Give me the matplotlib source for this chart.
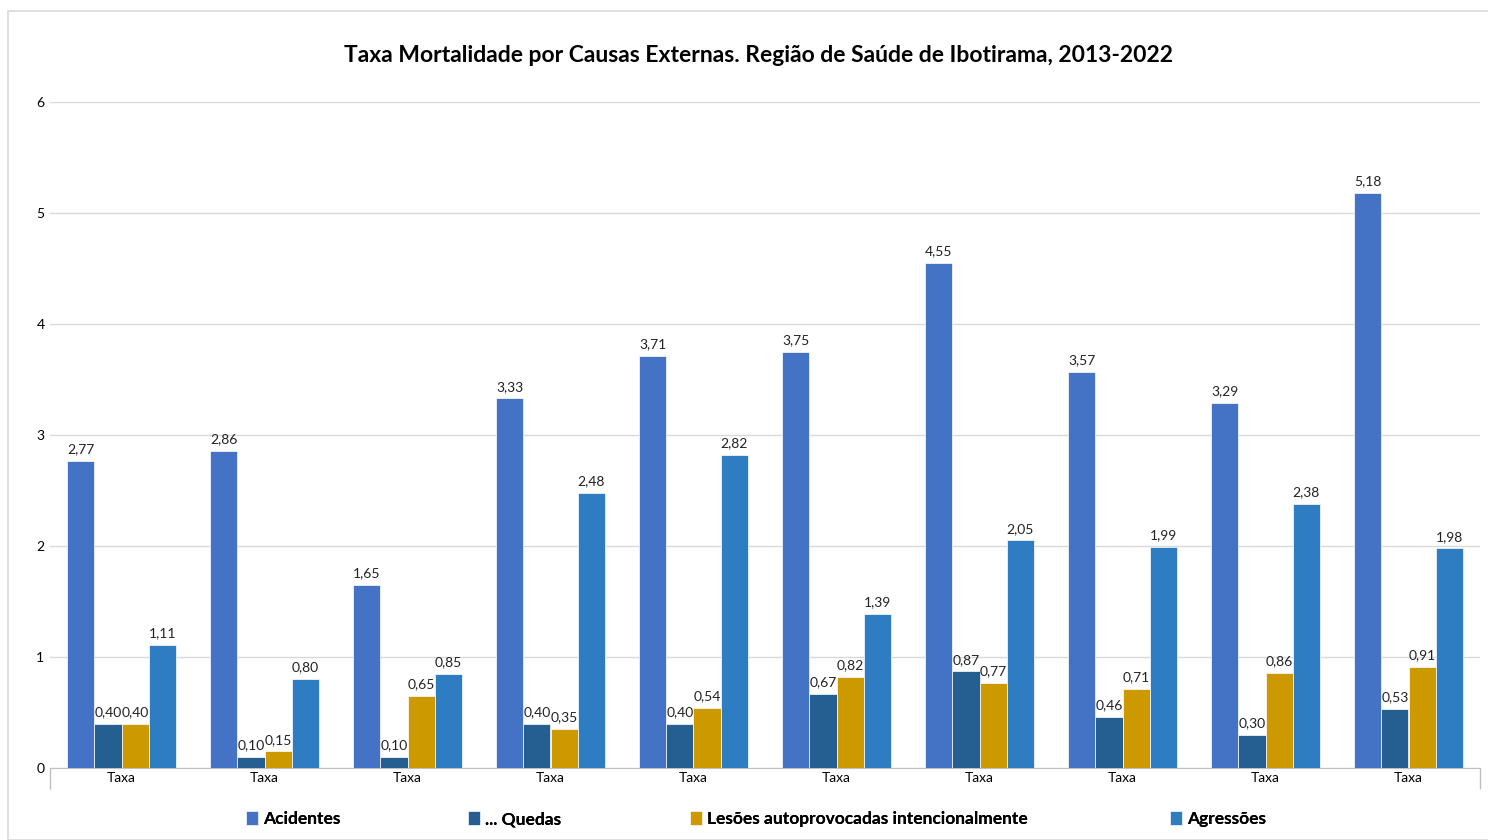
import matplotlib
matplotlib.use("Agg")
import matplotlib.pyplot as plt
import numpy as np
from matplotlib.patches import Rectangle

categories = ["Taxa"] * 10
series_names = ["Acidentes", "... Quedas", "Lesões autoprovocadas intencionalmente", "Agressões"]
acidentes = [2.77, 2.86, 1.65, 3.33, 3.71, 3.75, 4.55, 3.57, 3.29, 5.18]
quedas = [0.40, 0.10, 0.10, 0.40, 0.40, 0.67, 0.87, 0.46, 0.30, 0.53]
lesoes = [0.40, 0.15, 0.65, 0.35, 0.54, 0.82, 0.77, 0.71, 0.86, 0.91]
agressoes = [1.11, 0.80, 0.85, 2.48, 2.82, 1.39, 2.05, 1.99, 2.38, 1.98]
colors = ["#4472C4", "#255E91", "#CC9900", "#2E7DC2"]

plt.rcParams['font.family'] = ['Lato', 'DejaVu Sans']

fig = plt.figure(figsize=(14.88, 8.4), dpi=100)
fig.patches.append(Rectangle((8/1488, 0), 1.0, 1 - 11/840, transform=fig.transFigure,
                             fill=False, edgecolor="#D9D9D9", linewidth=1.2))
ax = fig.add_axes([50/1488, 1 - 768/840, 1430/1488, (768 - 102)/840])

x = np.arange(len(categories))
w = 0.19
data = [acidentes, quedas, lesoes, agressoes]
handles = []
for i, (vals, c) in enumerate(zip(data, colors)):
    pos = x + (i - 1.5) * w
    b = ax.bar(pos, vals, width=w, color=c, edgecolor="white", linewidth=0.5, zorder=3)
    handles.append(b)
    for px, v in zip(pos, vals):
        ax.text(px, v + 0.05, f"{v:.2f}".replace(".", ","), ha="center", va="bottom",
                fontsize=10, color="#222222", zorder=4)

ax.set_xlim(-0.5, len(categories) - 0.5)
ax.set_ylim(0, 6)
ax.set_yticks(range(0, 7))
ax.yaxis.grid(True, color="#D9D9D9", linewidth=1.0, zorder=0)
ax.set_axisbelow(True)
for s in ["top", "right", "left"]:
    ax.spines[s].set_visible(False)
ax.spines["bottom"].set_color("#BFBFBF")
ax.tick_params(axis="y", length=0, labelsize=10, pad=4)
ax.set_xticks(x)
ax.set_xticklabels(categories, fontsize=10)
ax.tick_params(axis="x", length=0, pad=3)
ax.set_xticks([-0.5, len(categories) - 0.5], minor=True)
ax.tick_params(axis="x", which="minor", length=15, color="#BFBFBF", width=1)

fig.text(0.510, 1 - 55/840, "Taxa Mortalidade por Causas Externas. Região de Saúde de Ibotirama, 2013-2022",
         ha="center", va="center", fontsize=16.5, fontweight="bold", color="#000000")

leg_x = [246, 468, 690, 1170]
for h, name, lx in zip(handles, series_names, leg_x):
    lg = fig.legend([h], [name], loc="center left", bbox_to_anchor=(lx/1488, 1 - 819/840),
                    frameon=False, handlelength=0.7, handleheight=0.9,
                    handletextpad=0.3, borderpad=0, borderaxespad=0,
                    prop={"weight": "bold", "size": 12.5})
    fig.add_artist(lg)

fig.savefig("out.png", dpi=100)
